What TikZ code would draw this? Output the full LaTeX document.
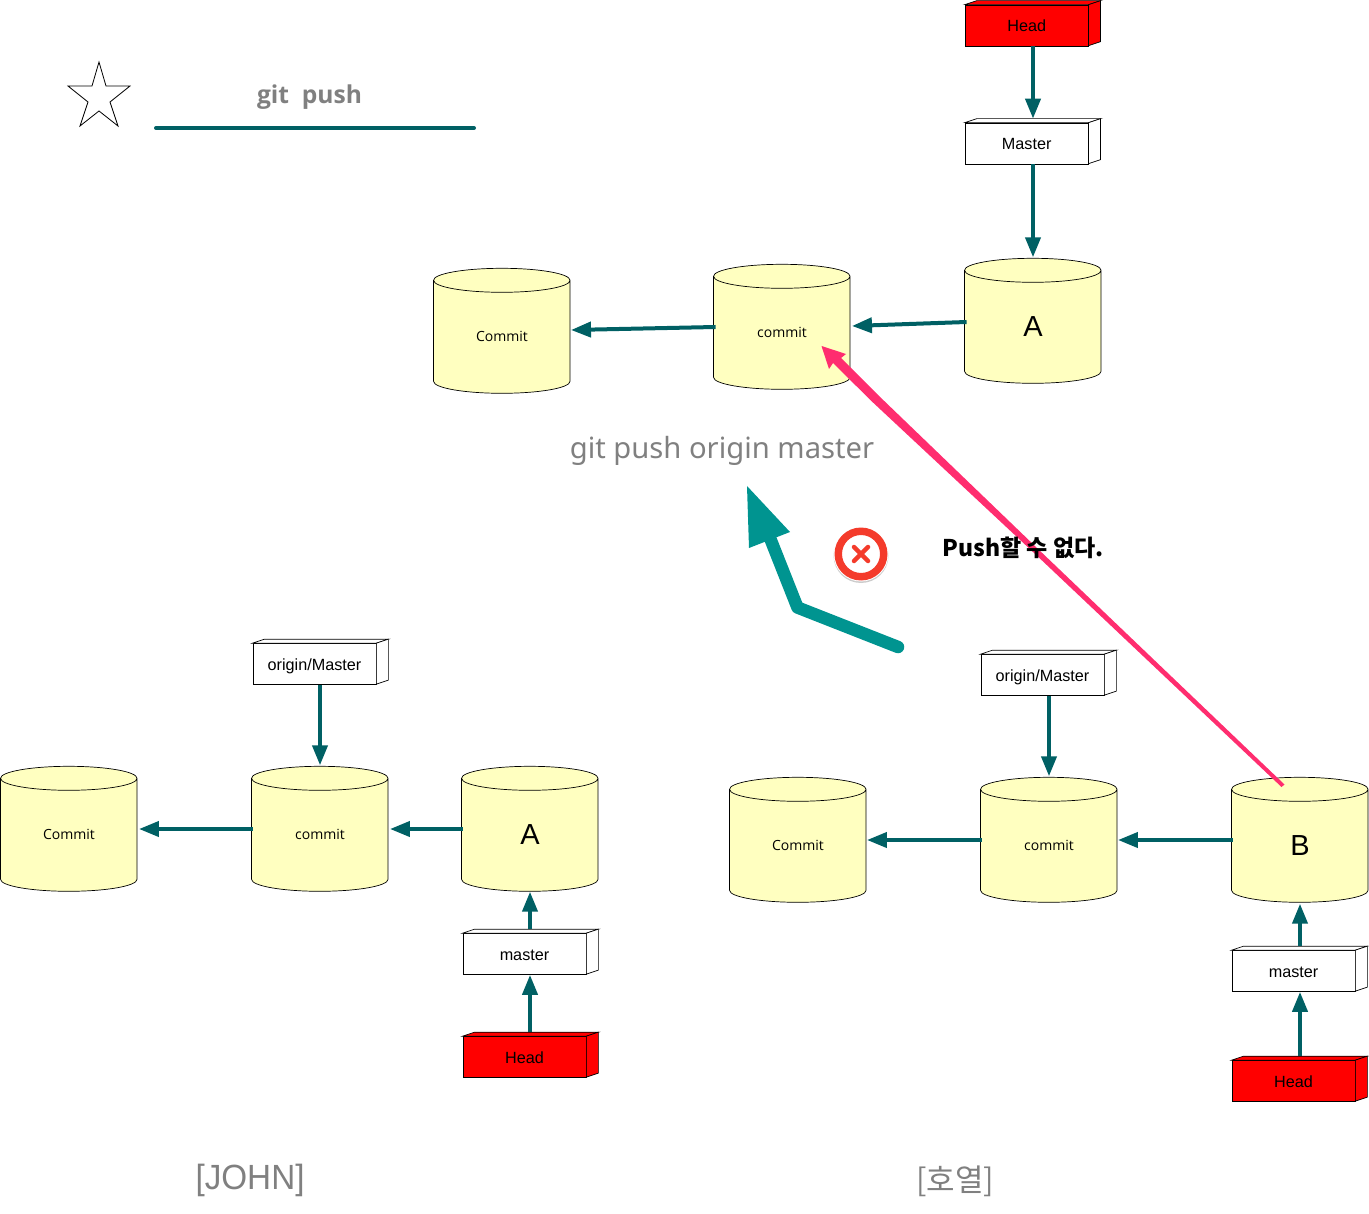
\documentclass[tikz,border=0pt]{standalone}
\usepackage{fontspec}
\setmainfont{Liberation Sans}
\newfontfamily\krfont{Noto Sans CJK KR}
\newfontfamily\uifont{Open Sans}
\newfontfamily\headfont{Noto Sans}
\usetikzlibrary{arrows.meta,calc}

\definecolor{linkteal}{HTML}{006064}
\definecolor{bigteal}{HTML}{009490}
\definecolor{cylfill}{HTML}{FFFFC0}
\definecolor{graytext}{HTML}{808080}
\definecolor{pinkline}{HTML}{FF2D6F}
\definecolor{redring}{HTML}{F43B2B}

\tikzset{
    link/.style={draw=linkteal, line width=4pt, -{Triangle[length=20pt,width=15pt]}},
    cylbody/.style={minimum width=136.5pt, minimum height=125pt, inner sep=0pt},
    boxfront/.style={draw, line width=0.7pt, minimum width=123pt, minimum height=41pt, inner sep=0pt, text height=13pt, text depth=0pt, font=\fontsize{16.2}{16}\selectfont},
    graylabel/.style={text=graytext, inner sep=0pt},
}

% cylinder: name, centre, text, font
\newcommand{\repocyl}[4]{
    \node[cylbody] (#1) at ($(#2)+(0,.5)$) {};
    \draw[fill=cylfill, line width=0.7pt] (#1.north west) ++(0,12) -- ++(0,101)
        arc[start angle=180, end angle=360, x radius=68.25pt, y radius=12pt] -- ++(0,-101)
        arc[start angle=0, end angle=180, x radius=68.25pt, y radius=12pt]
        arc[start angle=180, end angle=360, x radius=68.25pt, y radius=12pt];
    \node[inner sep=0pt, font=#4] (#1-text) at ($(#1.center)+(0,5.5)$) {#3};
}
% box: name, centre of front face, text, fill
\newcommand{\refbox}[4]{
    \node[boxfront, fill=#4] (#1) at (#2) {#3};
    \draw[fill=#4, line width=0.7pt] (#1.north west) -- ++(12,-4) -- ++(124,0) -- ++(-12,4) -- cycle;
    \draw[fill=#4, line width=0.7pt] (#1.north east) -- ++(12,-4) -- ++(0,41) -- ++(-12,4) -- cycle;
}

\begin{document}
\begin{tikzpicture}[x=1pt, y=-1pt]
    \useasboundingbox (0,0) rectangle (1369,1214);

    % title
    \draw[line width=0.8pt] (99,62) -- (106,86) -- (130,86) -- (110,102) -- (118,126) -- (99,111)
        -- (80,126) -- (88,102) -- (68,86) -- (92,86) -- cycle;
    \node[graylabel, font=\uifont\fontsize{24.6}{26}\selectfont\bfseries] (title) at (309.5,97) {git\ \ push};
    \coordinate (ruleA) at (156,128);
    \coordinate (ruleB) at (474,128);
    \draw[draw=linkteal, line width=4pt, line cap=round] (ruleA) -- (ruleB);

    % remote
    \repocyl{remoteOld}{502,330.5}{Commit}{\uifont\fontsize{14}{14}\selectfont}
    \repocyl{remoteMid}{782,326.5}{commit}{\uifont\fontsize{14}{14}\selectfont}
    \repocyl{remoteA}{1033,320.5}{A}{\fontsize{29}{29}\selectfont}
    \refbox{remoteHead}{1026.7,25.5}{Head}{red}
    \refbox{remoteMaster}{1026.7,143.5}{Master}{white}

    \draw[link] (remoteHead.south -| remoteA.center) -- ($(remoteMaster.north -| remoteA.center)+(0,-4)$);
    \draw[link] (remoteMaster.south -| remoteA.center) -- ($(remoteA.north)+(0,-1)$);
    \draw[link] (remoteA.west) ++(2,1) -- ($(remoteMid.east)+(1.5,-1)$);
    \draw[link] (remoteMid.west) ++(2,0) -- ($(remoteOld.east)+(.5,-1)$);

    % john
    \repocyl{johnOld}{69,828.5}{Commit}{\uifont\fontsize{14}{14}\selectfont}
    \repocyl{johnMid}{320,828.5}{commit}{\uifont\fontsize{14}{14}\selectfont}
    \repocyl{johnA}{530,828.5}{A}{\fontsize{29}{29}\selectfont}
    \refbox{johnOrigin}{314.5,664}{origin/Master}{white}
    \refbox{johnMaster}{524.5,954}{master}{white}
    \refbox{johnHead}{524.5,1057}{Head}{red}

    \draw[link] (johnOrigin.south -| johnMid.center) -- ($(johnMid.north)+(0,-1)$);
    \draw[link] (johnMid.west) ++(1,0) -- ($(johnOld.east)+(1.5,0)$);
    \draw[link] (johnA.west) ++(1,0) -- ($(johnMid.east)+(1.5,0)$);
    \draw[link] ($(johnMaster.north -| johnA.center)+(0,-4)$) -- (johnA.south);
    \draw[link] ($(johnHead.north -| johnA.center)+(0,-4)$) -- (johnMaster.south -| johnA.center);

    % hoyeol
    \repocyl{hoOld}{798,839.5}{Commit}{\uifont\fontsize{14}{14}\selectfont}
    \repocyl{hoMid}{1049,839.5}{commit}{\uifont\fontsize{14}{14}\selectfont}
    \repocyl{hoB}{1300,839.5}{B}{\fontsize{29}{29}\selectfont}
    \refbox{hoOrigin}{1042.5,675}{origin/Master}{white}
    \refbox{hoMaster}{1293.5,971}{master}{white}
    \refbox{hoHead}{1293.5,1081}{Head}{red}

    \draw[link] (hoOrigin.south -| hoMid.center) -- ($(hoMid.north)+(0,-1)$);
    \draw[link] (hoMid.west) ++(1,0) -- ($(hoOld.east)+(.5,0)$);
    \draw[link] (hoB.west) ++(1,0) -- ($(hoMid.east)+(.5,0)$);
    \draw[link] ($(hoMaster.north -| hoB.center)+(0,-4)$) -- ($(hoB.south)+(0,1)$);
    \draw[link] ($(hoHead.north -| hoB.center)+(0,-4)$) -- (hoMaster.south -| hoB.center);

    % push
    \node[graylabel, font=\headfont\fontsize{29.2}{31}\selectfont] (pushCmd) at (722,451) {git push origin master};
    \draw[draw=bigteal, line width=12.5pt, line cap=round, line join=round] (898,647) -- (797.5,607.5) -- (770,538);
    \fill[bigteal] (747,486) -- (790,532) -- (749,548) -- cycle;

    % rejected
    \fill[black!20] (861,555.5) circle[radius=27.5pt];
    \fill[white] (861,554) circle[radius=27.5pt];
    \fill[redring, even odd rule] (861,554) circle[radius=26.5pt] circle[radius=19pt];
    \draw[redring, line width=4.5pt, line cap=round] (854,547) -- (868,561) (868,547) -- (854,561);
    \fill[pinkline] (1284.5,784.5) -- (1281.5,787) -- (1033,552) -- (872,401.6) -- (833,363) -- (829,369)
        -- (821.5,346) -- (846,354) -- (841,358) -- (878,395) -- (1037,548) -- cycle;
    \node[inner sep=0pt, font=\krfont\fontsize{23}{23}\selectfont\bfseries] (rejectText) at (1023,548) {Push할 수 없다.};

    % names
    \node[graylabel, xscale=.95, font=\fontsize{35}{35}\selectfont] (johnName) at (250,1180) {[JOHN]};
    \node[graylabel, font=\krfont\fontsize{31}{31}\selectfont] (hoName) at (955,1181) {[호열]};
\end{tikzpicture}
\end{document}
